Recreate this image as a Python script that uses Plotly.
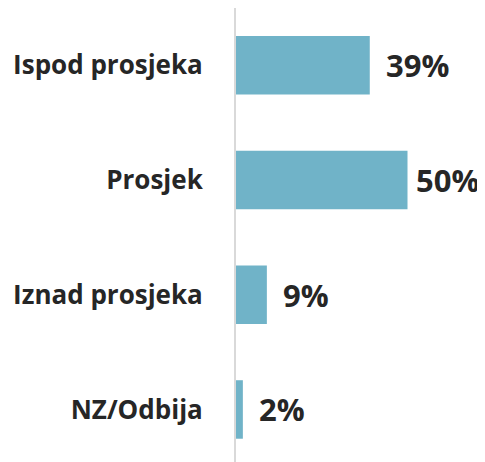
import plotly.graph_objects as go

categories = ["Ispod prosjeka", "Prosjek", "Iznad prosjeka", "NZ/Odbija"]
values = [39, 50, 9, 2]
value_labels = ["39%", "50%", "9%", "2%"]

BAR_COLOR = "#70B3C8"
TEXT_COLOR = "#262626"
X_MAX = 249 / 3.43

fig = go.Figure()
fig.add_trace(go.Bar(
    y=categories, x=values, orientation="h",
    marker=dict(color=BAR_COLOR, line=dict(width=0)),
    hoverinfo="skip",
))

for c, v, t in zip(categories, values, value_labels):
    # labels close to the right edge are pulled in so they stay visible
    shift = 14 if v < 0.6 * X_MAX else 6
    fig.add_annotation(
        x=v, y=c, text=t, showarrow=False, xanchor="left", yanchor="middle",
        xshift=shift, font=dict(family="Open Sans", size=31, color=TEXT_COLOR, weight="bold"),
    )

# page body has an 8px margin, so the figure is sized to fill the rest of the window
fig.update_layout(
    width=477, height=454,
    margin=dict(l=228, r=0, t=0, b=0),
    paper_bgcolor="white", plot_bgcolor="white",
    showlegend=False,
    bargap=0.49,
    xaxis=dict(range=[0, X_MAX], visible=False, fixedrange=True),
    yaxis=dict(
        type="category",
        range=[3.458, -0.5],
        showline=True, linecolor="#D9D9D9", linewidth=2,
        showgrid=False, zeroline=False,
        ticks="", ticklabelstandoff=26,
        tickfont=dict(family="Open Sans", size=26, color=TEXT_COLOR, weight="bold"),
    ),
)

fig.write_html("out.html")
